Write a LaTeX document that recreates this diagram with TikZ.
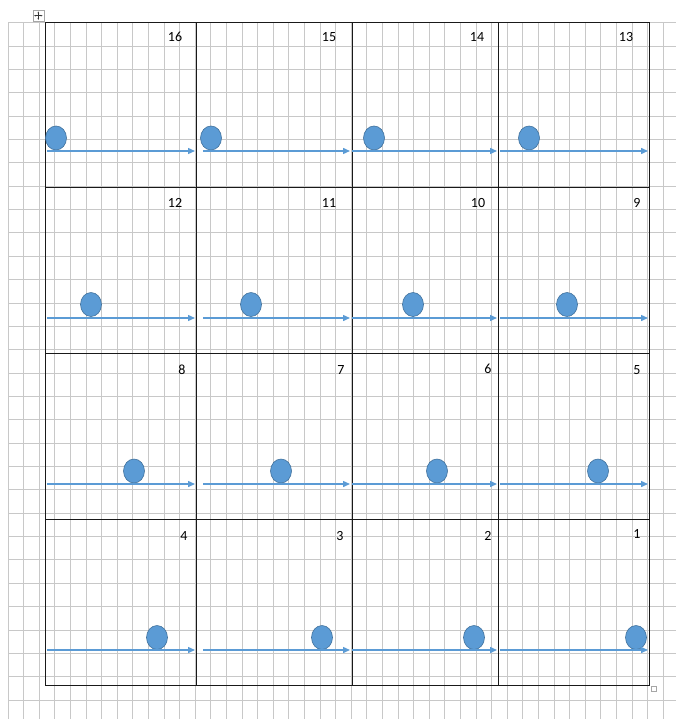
\documentclass[tikz,border=0pt]{standalone}
\usepackage{fontspec}
\setmainfont{Carlito}
\usetikzlibrary{arrows.meta,shapes.geometric}
\definecolor{ballblue}{HTML}{5B9BD5}
\definecolor{balledge}{HTML}{41719C}
\definecolor{gridgray}{HTML}{C8C8C8}

\begin{document}
\begin{tikzpicture}[x=1pt, y=-1pt,
  font=\fontsize{14}{16}\selectfont,
  gridline/.style={gridgray, line width=1pt},
  cellrule/.style={black!90, line width=0.9pt},
  ball/.style={ellipse, fill=ballblue, draw=balledge, line width=0.6pt,
    minimum width=21pt, minimum height=24pt, inner sep=0pt},
  flow/.style={-{Triangle[length=7pt,width=6pt]}, ballblue, line width=1.4pt},
  handle/.style={draw=gray!70, fill=white, line width=0.6pt, inner sep=0pt}
]
\useasboundingbox (0,0) rectangle (676,719);
% background grid
\foreach \i in {0,...,42}
  \draw[gridline] (8+15.6*\i,22.7) -- (8+15.6*\i,719);
\foreach \j in {0,...,29}
  \draw[gridline] (8,22.7+23.36*\j) -- (676,22.7+23.36*\j);
% table rules
\draw[cellrule] (45,22.5) rectangle (649,685);
\foreach \x in {196,352,498}
  \draw[cellrule] (\x,22.5) -- (\x,685);
\foreach \y in {187.5,353,519}
  \draw[cellrule] (45,\y) -- (649,\y);
% balls
\foreach \n/\x/\y in {16/56/138, 15/211/138, 14/374/138, 13/529/138,
    12/91/304.5, 11/251/304.5, 10/413/304.5, 9/567/304.5,
    8/134/471, 7/281/471, 6/437/471, 5/598/471,
    4/157/637.5, 3/322/637.5, 2/474/637.5, 1/636/637.5}
  \node[ball] (b\n) at (\x,\y) {};
% arrows
\foreach \r/\y in {1/151, 2/318, 3/484, 4/650} {
  \foreach \c/\xa/\xb in {1/47/195, 2/203/350, 3/352/497, 4/500/648} {
    \coordinate (s\r\c) at (\xa,\y);
    \coordinate (e\r\c) at (\xb,\y);
    \draw[flow] (s\r\c) -- (e\r\c);
  }
}
% cell numbers
\foreach \n/\x/\y in {16/175/37, 15/329/37, 14/477/37, 13/626/37,
    12/175/203, 11/329/203, 10/478/203, 9/637/203,
    8/182/370, 7/341/370, 6/488/369, 5/637/370,
    4/184/536, 3/340/536, 2/488/536, 1/637/534}
  \node (n\n) at (\x,\y) {\n};
% table handles
\node[handle, minimum size=11pt] (mv) at (38.3,15.7) {};
\draw[{Stealth[length=2pt]}-{Stealth[length=2pt]}, line width=0.5pt, black!80]
  ([xshift=1.5pt]mv.west) -- ([xshift=-1.5pt]mv.east);
\draw[{Stealth[length=2pt]}-{Stealth[length=2pt]}, line width=0.5pt, black!80]
  ([yshift=-1.5pt]mv.north) -- ([yshift=1.5pt]mv.south);
\node[handle, minimum size=5pt] (rs) at (654,689) {};
\end{tikzpicture}
\end{document}
